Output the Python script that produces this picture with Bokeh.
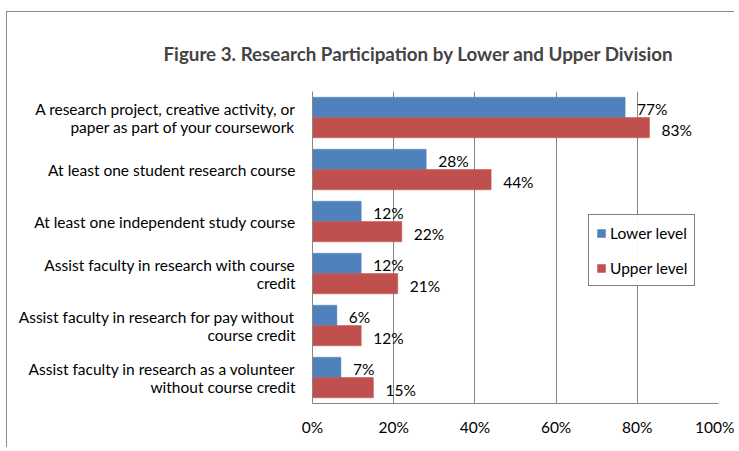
from bokeh.plotting import figure
from bokeh.models import (ColumnDataSource, FixedTicker, Legend, LegendItem,
                          NumeralTickFormatter, Range1d)
from bokeh.transform import dodge
from bokeh.core.properties import value
from bokeh.embed import file_html
from bokeh.resources import INLINE

categories = [
    "A research project, creative activity, or\npaper as part of your coursework",
    "At least one student research course",
    "At least one independent study course",
    "Assist faculty in research with course\ncredit",
    "Assist faculty in research for pay without\ncourse credit",
    "Assist faculty in research as a volunteer\nwithout course credit",
]
lower_level = [0.77, 0.28, 0.12, 0.12, 0.06, 0.07]
upper_level = [0.83, 0.44, 0.22, 0.21, 0.12, 0.15]
lower_labels = ["77%", "28%", "12%", "12%", "6%", "7%"]
upper_labels = ["83%", "44%", "22%", "21%", "12%", "15%"]
x_ticks = [0, 0.2, 0.4, 0.6, 0.8, 1.0]

BLUE = "#4F81BD"
RED = "#C0504D"
GRID = "#868686"
FONT = "Lato"
FS = "15.5px"

n = len(categories)
pos = [n - i - 0.5 for i in range(n)]   # first category at the top
src = ColumnDataSource(dict(pos=pos, lower=lower_level, upper=upper_level,
                            llab=lower_labels, ulab=upper_labels))

p = figure(width=728, height=436, output_backend="svg", toolbar_location=None,
           y_range=Range1d(0, n), x_range=(0, 1),
           min_border_left=305, min_border_right=17, min_border_top=75, min_border_bottom=45,
           title="Figure 3. Research Participation by Lower and Upper Division")
p.styles = {"margin-left": "6px", "margin-top": "11px",
            "border-top": "1px solid #8c8c8c", "border-left": "1px solid #8c8c8c"}
p.outline_line_color = None
p.background_fill_color = "white"
p.border_fill_color = "white"

p.title.text_font = FONT
p.title.text_font_style = "bold"
p.title.text_font_size = "18.8px"
p.title.align = "left"
p.title.offset = -149
p.title.standoff = 54

rb = p.hbar(y=dodge("pos", 0.195), right="lower", left=0, height=0.39,
            source=src, fill_color=BLUE, line_color=BLUE, line_width=0.5)
rr = p.hbar(y=dodge("pos", -0.195), right="upper", left=0, height=0.39,
            source=src, fill_color=RED, line_color=RED, line_width=0.5)

p.text(x="lower", y=dodge("pos", 0.195), text="llab", source=src,
       x_offset=12, y_offset=2, text_align="left", text_baseline="middle",
       text_font=value(FONT), text_font_size=FS, text_color="black")
p.text(x="upper", y=dodge("pos", -0.195), text="ulab", source=src,
       x_offset=12, y_offset=2, text_align="left", text_baseline="middle",
       text_font=value(FONT), text_font_size=FS, text_color="black")

p.xaxis.ticker = FixedTicker(ticks=x_ticks)
p.xaxis.formatter = NumeralTickFormatter(format="0%")
p.xaxis.major_tick_out = 0
p.xaxis.major_tick_in = 0
p.xaxis.minor_tick_out = 0
p.xaxis.minor_tick_in = 0
p.xaxis.axis_line_color = GRID
p.xaxis.major_label_standoff = 14
p.xaxis.major_label_text_font = FONT
p.xaxis.major_label_text_font_size = FS
p.xaxis.major_label_text_color = "black"

p.yaxis.ticker = FixedTicker(ticks=pos, minor_ticks=[])
p.yaxis.major_label_overrides = {yv: cat for yv, cat in zip(pos, categories)}
p.yaxis.major_tick_out = 0
p.yaxis.major_tick_in = 0
p.yaxis.minor_tick_out = 0
p.yaxis.minor_tick_in = 0
p.yaxis.axis_line_color = GRID
p.yaxis.major_label_standoff = 17
p.yaxis.major_label_text_font = FONT
p.yaxis.major_label_text_font_size = FS
p.yaxis.major_label_text_color = "black"
p.yaxis.major_label_text_line_height = 1.0

p.xgrid.ticker = FixedTicker(ticks=x_ticks)
p.xgrid.grid_line_color = GRID
p.ygrid.grid_line_color = None

legend = Legend(items=[LegendItem(label="Lower level", renderers=[rb]),
                       LegendItem(label="Upper level", renderers=[rr])],
                location=(276, 117), orientation="vertical")
legend.border_line_color = "black"
legend.border_line_width = 1
legend.background_fill_color = "white"
legend.padding = 7
legend.spacing = 14
legend.margin = 0
legend.label_height = 21
legend.glyph_height = 10
legend.glyph_width = 10
legend.label_standoff = 4
legend.label_text_font = FONT
legend.label_text_font_size = FS
legend.label_text_color = "black"
p.add_layout(legend, "center")

open("out.html", "w").write(file_html(p, INLINE))
